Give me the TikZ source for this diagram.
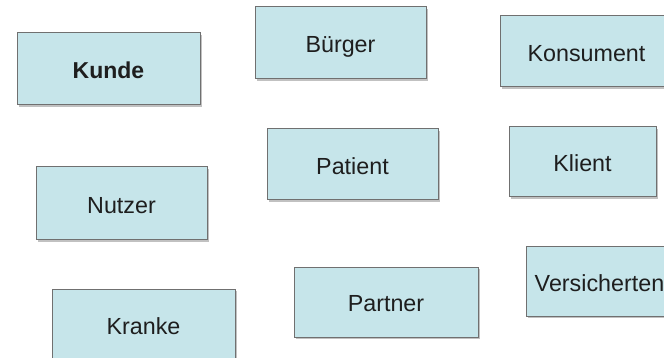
\documentclass[tikz,border=0pt]{standalone}
\usepackage{fontspec}
\setmainfont{Liberation Sans}
\usetikzlibrary{shadows}
\definecolor{boxfill}{HTML}{C6E5EA}
\definecolor{boxline}{HTML}{707070}
\definecolor{txt}{HTML}{1E1E1E}
\begin{document}
\begin{tikzpicture}[x=1pt,y=-1pt,
  box/.style={draw=boxline, line width=1pt, fill=boxfill, text=txt,
    drop shadow={shadow xshift=2pt, shadow yshift=-2pt, opacity=0.4, fill=black!60},
    inner sep=0pt, text height=19.8pt, text depth=0pt,
    font=\fontsize{23.3}{27}\selectfont}]
\useasboundingbox (0,0) rectangle (664,358);
\clip (0,0) rectangle (664,358);
\fill[white] (0,0) rectangle (664,358);
\node[box, minimum width=183pt, minimum height=72pt, font=\fontsize{23}{27}\selectfont\bfseries] (kunde) at (108.5,69) {Kunde};
\node[box, minimum width=171pt, minimum height=72pt] (buerger) at (340.5,43) {Bürger};
\node[box, minimum width=173pt, minimum height=71pt] (konsument) at (586.5,51.5) {Konsument};
\node[box, minimum width=171pt, minimum height=71pt] (patient) at (352.5,164.5) {Patient};
\node[box, minimum width=147pt, minimum height=70pt] (klient) at (582.5,162) {Klient};
\node[box, minimum width=171pt, minimum height=73pt] (nutzer) at (121.5,203.5) {Nutzer};
\node[box, minimum width=183pt, minimum height=72pt] (kranke) at (143.5,325) {Kranke};
\node[box, minimum width=184pt, minimum height=70pt] (partner) at (386,302) {Partner};
\node[box, minimum width=147pt, minimum height=69pt] (versicherten) at (599.5,281.5) {Versicherten};
\end{tikzpicture}
\end{document}
